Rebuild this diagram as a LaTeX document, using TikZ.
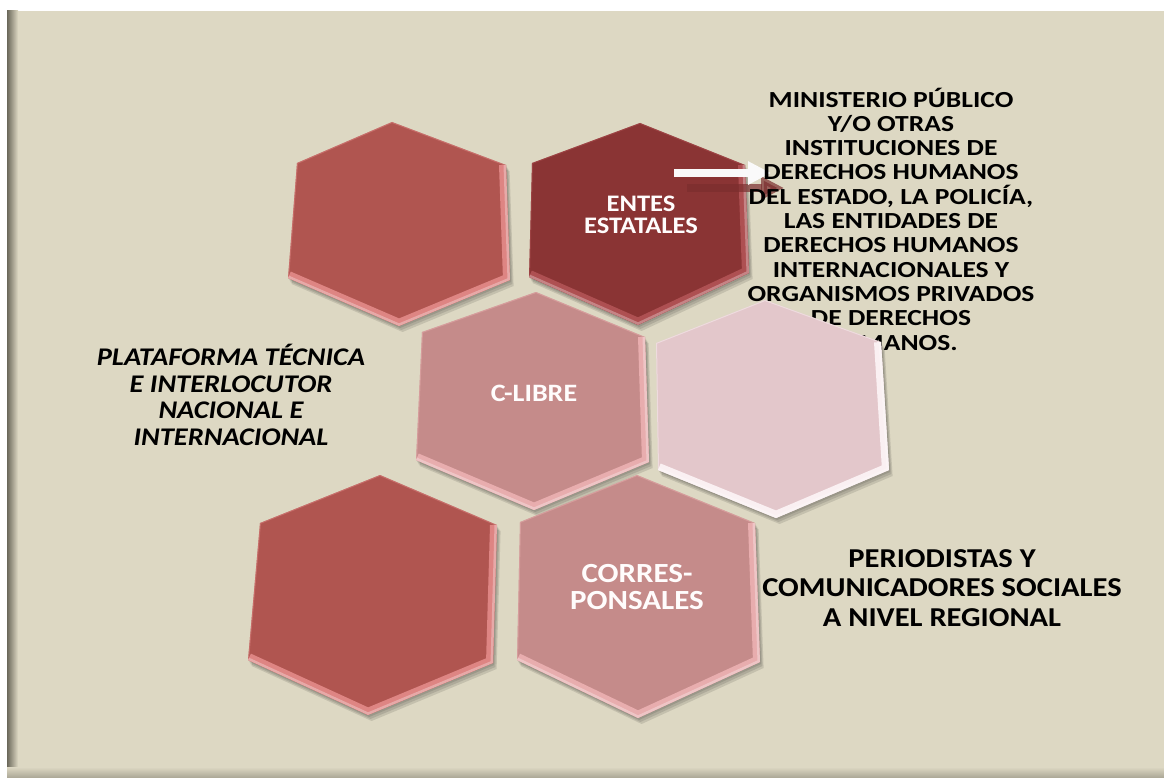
\documentclass[tikz,border=0pt]{standalone}
\usepackage{fontspec}
\setmainfont{Carlito}
\usetikzlibrary{arrows.meta}

\definecolor{paper}{HTML}{DDD8C3}
\definecolor{paperdark}{HTML}{A9A594}
\definecolor{rimgray}{HTML}{6B685A}
\definecolor{hexred}{HTML}{B05550}
\definecolor{hexredlt}{HTML}{DE8583}
\definecolor{hexdark}{HTML}{8A3434}
\definecolor{hexdarklt}{HTML}{AE5052}
\definecolor{hexrose}{HTML}{C58B8A}
\definecolor{hexroselt}{HTML}{E8ADAE}
\definecolor{hexpale}{HTML}{E3C7CB}
\definecolor{hexpalelt}{HTML}{FAF0F2}
\definecolor{arrowshade}{HTML}{7B2E2E}

% one bevelled cell: fill, bevel, then top, upper right, lower right, bottom, lower left, upper left
\newcommand{\hexcell}[8]{%
  \foreach \s in {2,4,6}
    \fill[black, opacity=.11, shift={(\s*0.6,\s)}] #3 -- #4 -- #5 -- #6 -- #7 -- #8 -- cycle;
  \fill[#1] #3 -- #4 -- #5 -- #6 -- #7 -- #8 -- cycle;
  \begin{scope}
    \clip #3 -- #4 -- #5 -- #6 -- #7 -- #8 -- cycle;
    \draw[#2, opacity=.5, line width=2pt] #3 -- #4 -- #5 -- #6 -- #7 -- #8 -- cycle;
    \draw[#2, line width=14pt, line join=round] #7 -- #6 -- #5 -- #4;
    \draw[white, opacity=.3, line width=5pt, line join=round] #7 -- #6 -- #5 -- #4;
  \end{scope}
}

\tikzset{
  wide/.style={xscale=1.12, transform shape},
  celltext/.style={wide, text=white!95!pink, font=\bfseries\fontsize{23.7}{22}\selectfont, align=center, inner sep=0pt},
  sidetext/.style={wide, text=black, font=\bfseries\fontsize{24.5}{24.3}\selectfont, align=center, inner sep=0pt},
  flowarrow/.style={line width=8pt, -{Triangle[length=23pt,width=22pt]}},
}

\begin{document}
\begin{tikzpicture}[x=1pt, y=-1pt]
\useasboundingbox (0,0) rectangle (1164,778);

% frame
\fill[white] (0,0) rectangle (1164,778);
\fill[paper] (7,11) rectangle (1164,778);
\shade[left color=rimgray, right color=paper] (7,11) rectangle (18,778);
\shade[top color=paper, bottom color=paperdark] (7,767) rectangle (1164,778);

% top row
\hexcell{hexred}{hexredlt}{(392,122)}{(506,165)}{(510,280)}{(399,326)}{(288,278)}{(297,163)} % cell.1
\hexcell{hexdark}{hexdarklt}{(640,123)}{(745,165)}{(749,273)}{(638,325)}{(529,277)}{(532,163)} % cell.2
\node[celltext] (entes) at (641,215) {ENTES\\ESTATALES};

% arrow to the list of state bodies
\coordinate (arrS) at (674,173);
\coordinate (arrE) at (771,173);
\draw[flowarrow, arrowshade, opacity=.7] ([shift={(13,15)}]arrS) -- ([shift={(13,15)}]arrE);
\draw[flowarrow, white!96!gray] (arrS) -- (arrE);

\node[sidetext, xscale=1.07, font=\bfseries\fontsize{23}{24.3}\selectfont] (ministerio) at (891,219) {MINISTERIO PÚBLICO\\Y/O OTRAS\\INSTITUCIONES DE\\DERECHOS HUMANOS\\DEL ESTADO, LA POLICÍA,\\LAS ENTIDADES DE\\DERECHOS HUMANOS\\INTERNACIONALES Y\\ORGANISMOS PRIVADOS\\DE DERECHOS\\HUMANOS.};

% middle row
\hexcell{hexrose}{hexroselt}{(536,292)}{(645,337)}{(649,462)}{(534,510)}{(416,460)}{(422,332)} % cell.3
\node[celltext, font=\bfseries\fontsize{25}{24}\selectfont] (clibre) at (534,393) {C-LIBRE};
\hexcell{hexpale}{hexpalelt}{(765,300)}{(881,342)}{(889,470)}{(776,518)}{(658,470)}{(656,343)} % cell.4

\node[sidetext, font=\bfseries\itshape\fontsize{25.4}{26.5}\selectfont] (plataforma) at (231,395) {PLATAFORMA TÉCNICA\\E INTERLOCUTOR\\NACIONAL E\\INTERNACIONAL};

% bottom row
\hexcell{hexred}{hexredlt}{(380,475)}{(497,525)}{(493,663)}{(368,715)}{(248,660)}{(260,523)} % cell.5
\hexcell{hexrose}{hexroselt}{(637,475)}{(755,523)}{(760,662)}{(638,718)}{(517,660)}{(520,522)} % cell.6
\node[celltext, font=\bfseries\fontsize{27.7}{27}\selectfont] (corres) at (637,587) {CORRES-\\PONSALES};

\node[sidetext, font=\bfseries\fontsize{27.3}{29.5}\selectfont] (periodistas) at (942,588) {PERIODISTAS Y\\COMUNICADORES SOCIALES\\A NIVEL REGIONAL};

\end{tikzpicture}
\end{document}
